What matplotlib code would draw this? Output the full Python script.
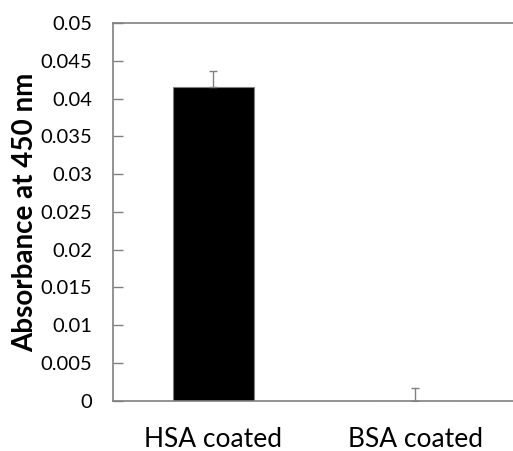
import matplotlib.pyplot as plt

# data
categories = ['HSA coated', 'BSA coated']
absorbance = [0.0416, 0.00002]
errors = [0.0021, 0.0017]

yticks = [0, 0.005, 0.01, 0.015, 0.02, 0.025, 0.03, 0.035, 0.04, 0.045, 0.05]
ytick_labels = ['0', '0.005', '0.01', '0.015', '0.02', '0.025', '0.03',
                '0.035', '0.04', '0.045', '0.05']

plt.rcParams['font.family'] = ['Lato', 'DejaVu Sans']

fig = plt.figure(figsize=(5.13, 4.51), dpi=100)
ax = fig.add_axes([0.2193, 0.1115, 0.787, 0.837])

x = range(len(categories))
ax.bar(x, absorbance, width=0.4, color='black', edgecolor='#808080',
       linewidth=0.8, yerr=[[0, 0], errors],
       error_kw=dict(ecolor='#808080', elinewidth=1, capsize=3, capthick=1))

ax.set_xlim(-0.5, 1.5)
ax.set_ylim(0, 0.05)
ax.set_yticks(yticks)
ax.set_yticklabels(ytick_labels, fontsize=14.5)
ax.set_xticks(list(x))
ax.set_xticklabels(categories, fontsize=19)
ax.tick_params(axis='y', direction='in', length=7, width=1, color='#808080', pad=14.5)
ax.tick_params(axis='x', length=0, pad=19)

for side in ['left', 'bottom', 'top']:
    ax.spines[side].set_color('#808080')
    ax.spines[side].set_linewidth(1.2)
ax.spines['right'].set_visible(False)

ax.set_ylabel('Absorbance at 450 nm', fontsize=20, fontweight='bold', labelpad=2)

fig.savefig('out.png', dpi=100)
